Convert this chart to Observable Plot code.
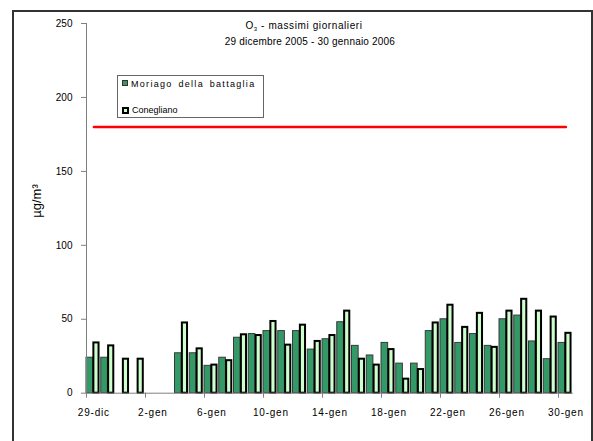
<!DOCTYPE html>
<html>
<head>
<meta charset="utf-8">
<script src="https://cdn.jsdelivr.net/npm/d3@7"></script>
<script src="https://cdn.jsdelivr.net/npm/@observablehq/plot@0.6"></script>
<style>
  html, body { margin: 0; padding: 0; background: #fff; }
  #wrap { position: relative; width: 593px; height: 441px; overflow: hidden;
          font-family: "Liberation Sans", Arial, sans-serif; color: #000; }
  #wrap svg { position: absolute; left: 0; top: 0; }
  .frame { position: absolute; left: 12px; top: 10px; width: 581px; height: 480px;
           border: 2px solid #333; box-sizing: border-box; }
  .title { position: absolute; width: 300px; text-align: center; font-size: 10px;
           line-height: 12px; white-space: nowrap; }
  .title sub { font-size: 6px; vertical-align: -2px; }
  .legend { position: absolute; left: 117px; top: 75px; width: 147px; height: 43px;
            border: 1px solid #666; box-sizing: border-box; background: #fff; }
  .sw { position: absolute; box-sizing: border-box; }
  .lt { position: absolute; font-size: 9px; line-height: 12px; white-space: nowrap; }
  .ylab { position: absolute; left: 37px; top: 201px; font-size: 13px; line-height: 14px;
          transform: translate(-50%, -50%) rotate(-90deg); white-space: nowrap; }
</style>
</head>
<body>
<div id="wrap"></div>
<script>
// Categories (days)
const days = ["29-dic","30-dic","31-dic","1-gen","2-gen","3-gen","4-gen","5-gen","6-gen","7-gen","8-gen",
  "9-gen","10-gen","11-gen","12-gen","13-gen","14-gen","15-gen","16-gen","17-gen","18-gen","19-gen",
  "20-gen","21-gen","22-gen","23-gen","24-gen","25-gen","26-gen","27-gen","28-gen","29-gen","30-gen"];

// Series values (µg/m³), null = missing
const moriago = [24, 24, null, null, null, null, 27, 27, 18.5, 24, 37.5,
  40, 42, 42, 42, 29.5, 36.5, 48, 32, 25.5, 34, 20,
  20, 42, 50, 34, 40, 32, 50, 52.5, 35, 23, 34];
const conegliano = [34, 32, 23, 23, null, null, 47.5, 30, 19, 22, 39.5,
  39, 48.5, 32.5, 46, 35, 39, 55.5, 23, 19, 29.5, 9.5,
  16, 47.5, 59.5, 44.5, 54, 31, 55.5, 63.5, 55.5, 51.5, 40.5];

// Threshold (soglia di informazione)
const soglia = 180;

// Tick labels
const xTickIdx = [0, 4, 8, 12, 16, 20, 24, 28, 32];
const yTicks = [0, 50, 100, 150, 200, 250];

const rowsM = days.map((d, i) => ({i, day: d, v: moriago[i]})).filter(d => d.v != null);
const rowsC = days.map((d, i) => ({i, day: d, v: conegliano[i]})).filter(d => d.v != null);
const rowsS = days.map((d, i) => ({x: i + 0.5, v: soglia}));

const chart = Plot.plot({
  width: 593,
  height: 441,
  marginLeft: 86,
  marginRight: 20.25,
  marginTop: 23,
  marginBottom: 48.3,
  style: {fontFamily: "'Liberation Sans', Arial, sans-serif", fontSize: "10px", background: "transparent"},
  x: {domain: [0, days.length], axis: null},
  y: {domain: [0, 250], axis: null},
  marks: [
    Plot.rect(rowsM, {x1: d => d.i, x2: d => d.i + 0.45, y1: 0, y2: "v",
      fill: "#339966", stroke: "#3a3a3a", strokeWidth: 1}),
    Plot.rect(rowsC, {x1: d => d.i + 0.5, x2: d => d.i + 0.85, y1: 0, y2: "v",
      fill: "#ccffcc", stroke: "#000", strokeWidth: 2}),
    Plot.ruleX([0], {stroke: "#808080"}),
    Plot.ruleY([0], {stroke: "#808080"}),
    Plot.axisY(yTicks, {tickSize: 5, tickPadding: 9, stroke: "#808080", fill: "#000",
      fontSize: 10, label: null, tickFormat: d => String(d)}),
    Plot.axisX(xTickIdx, {tickSize: 5, stroke: "#808080", fill: "none", label: null}),
    Plot.axisX(xTickIdx.map(i => i + 0.5), {tickSize: 0, tickPadding: 16, fill: "#000",
      fontSize: 10, label: null, tickFormat: d => days[Math.round(d - 0.5)]}),
    Plot.lineY(rowsS, {x: "x", y: "v", stroke: "#ff0000", strokeWidth: 2.5})
  ]
});

const wrap = document.getElementById("wrap");
wrap.appendChild(chart);
chart.querySelectorAll("g[aria-label='x-axis tick label'] text").forEach(t => t.style.letterSpacing = "0.8px");

wrap.insertAdjacentHTML("beforeend", `
  <div class="frame"></div>
  <div class="title" style="left:154px; top:20px; letter-spacing:0.6px;">O<sub>3</sub> - massimi giornalieri</div>
  <div class="title" style="left:160px; top:36px; letter-spacing:0.2px;">29 dicembre 2005 - 30 gennaio 2006</div>
  <div class="legend">
    <div class="sw" style="left:4px; top:4px; width:6px; height:6px; background:#339966; border:1px solid #333;"></div>
    <div class="lt" style="left:13px; top:2px; letter-spacing:1.3px; word-spacing:2px;">Moriago della battaglia</div>
    <div class="sw" style="left:4px; top:31px; width:7px; height:7px; background:#ccffcc; border:2px solid #000;"></div>
    <div class="lt" style="left:14px; top:28px;">Conegliano</div>
  </div>
  <div class="ylab">µg/m³</div>
`);
</script>
</body>
</html>
